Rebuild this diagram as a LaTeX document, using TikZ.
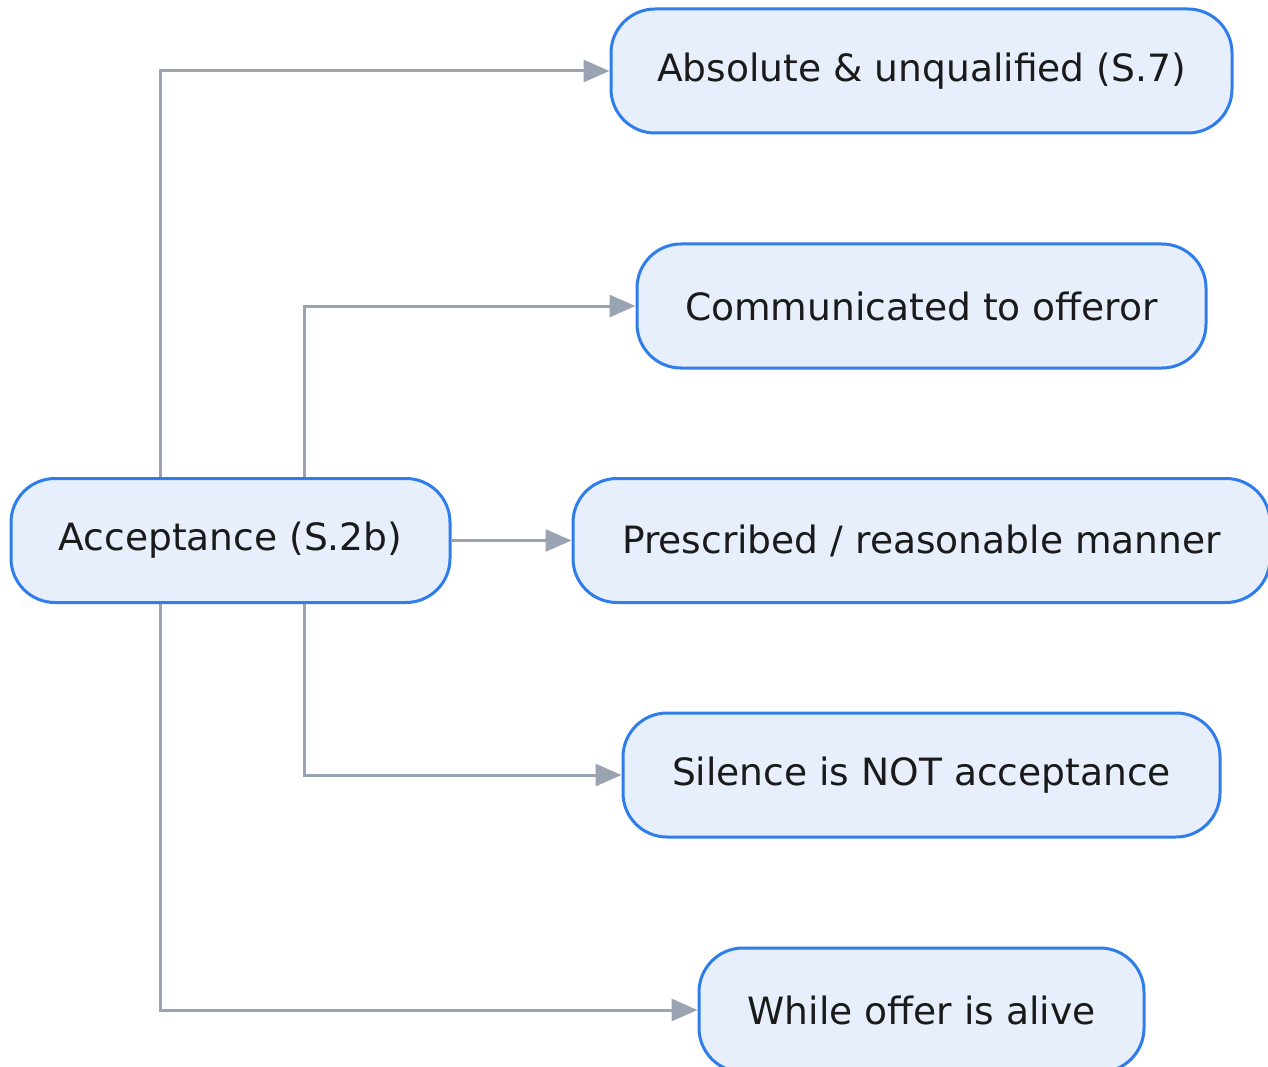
\documentclass[tikz,border=0pt]{standalone}
\usepackage{fontspec}
\setmainfont{DejaVu Sans}
\usetikzlibrary{arrows.meta}
\definecolor{boxline}{HTML}{2F7CEB}
\definecolor{boxfill}{HTML}{E8EFFC}
\definecolor{linkgray}{HTML}{9AA3B2}
\definecolor{ink}{HTML}{1A1A1A}
\begin{document}
\begin{tikzpicture}[x=1pt,y=-1pt,
  item/.style={draw=boxline, fill=boxfill, line width=3pt, rounded corners=44pt,
    minimum height=124pt, inner sep=0pt, text=ink,
    font=\fontsize{37.6}{45}\selectfont},
  link/.style={draw=linkgray, line width=3pt,
    -{Triangle[length=26pt,width=22pt]}}]
\clip (0,0) rectangle (1268,1067);
\useasboundingbox (0,0) rectangle (1268,1067);

\node[item, minimum width=439pt] (acc) at (230.5,540.5) {Acceptance (S.2b)};
\node[item, minimum width=621pt] (abs) at (921.5,71) {Absolute \& unqualified (S.7)};
\node[item, minimum width=569pt] (com) at (921.5,306) {Communicated to offeror};
\node[item, minimum width=697pt] (pre) at (921.5,540.5) {Prescribed / reasonable manner};
\node[item, minimum width=597pt] (sil) at (921.5,775) {Silence is NOT acceptance};
\node[item, minimum width=445pt] (whi) at (921.5,1010) {While offer is alive};

\draw[link] (acc.north -| 160,0) |- (abs.west);
\draw[link] (acc.north -| 304,0) |- (com.west);
\draw[link] (acc.east) -- (pre.west);
\draw[link] (acc.south -| 304,0) |- (sil.west);
\draw[link] (acc.south -| 160,0) |- (whi.west);
\end{tikzpicture}
\end{document}
